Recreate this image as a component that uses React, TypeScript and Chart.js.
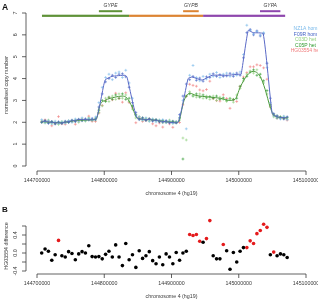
import React, { useEffect, useRef } from "react";
import { Chart, registerables } from "chart.js";

Chart.register(...registerables);

// 5 kb window centres along chromosome 4 (hg19)
const windowCentres = [
  144707000, 144712000, 144717000, 144722000, 144727000, 144732000, 144737000, 144742000, 144747000, 144752000,
  144757000, 144762000, 144767000, 144772000, 144777000, 144782000, 144787000, 144792000, 144797000, 144802000,
  144807000, 144812000, 144817000, 144822000, 144827000, 144832000, 144837000, 144842000, 144847000, 144852000,
  144857000, 144862000, 144867000, 144872000, 144877000, 144882000, 144887000, 144892000, 144897000, 144902000,
  144907000, 144912000, 144917000, 144922000, 144927000, 144932000, 144937000, 144942000, 144947000, 144952000,
  144957000, 144962000, 144967000, 144972000, 144977000, 144982000, 144987000, 144992000, 144997000, 145002000,
  145007000, 145012000, 145017000, 145022000, 145027000, 145032000, 145037000, 145042000, 145047000, 145052000,
  145057000, 145062000, 145067000, 145072000,
];

// normalised copy number per sample
const nz1aHom = [
  2.12, 1.98, 2.07, 1.93, 2.05, 1.95, 2.02, 1.96, 2.08, 2.0,
  2.15, 2.05, 2.2, 2.08, 2.18, 2.1, 2.24, 2.9, 3.6, 4.05,
  4.2, 3.95, 4.25, 4.3, 4.05, 4.38, 3.8, 3.1, 2.3, 2.25,
  2.1, 2.2, 2.05, 2.15, 2.02, 2.1, 2.12, 1.98, 2.06, 1.95,
  2.04, 2.2, 3.0, 1.7, 4.15, 4.6, 4.05, 3.9, 4.1, 3.98,
  4.2, 4.1, 4.28, 4.05, 4.2, 4.25, 4.1, 4.22, 4.15, 4.3,
  5.1, 6.44, 6.2, 6.05, 6.15, 6.0, 6.1, 4.5, 2.9, 2.3,
  2.2, 2.15, 2.28, 2.12,
];
const f09rHom = [
  2.0, 2.08, 1.95, 2.04, 1.92, 2.02, 1.94, 2.05, 1.99, 2.1,
  2.03, 2.14, 2.07, 2.16, 2.1, 2.18, 2.12, 2.7, 3.3, 3.85,
  4.0, 4.15, 4.05, 4.2, 4.22, 4.08, 3.6, 2.9, 2.45, 2.12,
  2.2, 2.08, 2.16, 2.05, 2.12, 2.02, 2.0, 2.08, 1.97, 2.04,
  1.98, 2.35, 3.2, 3.75, 3.95, 4.1, 3.92, 4.02, 3.88, 4.08,
  4.05, 4.22, 4.1, 4.18, 4.1, 4.12, 4.24, 4.1, 4.25, 4.15,
  4.95, 6.1, 6.25, 6.0, 6.18, 5.95, 6.05, 4.7, 3.1, 2.4,
  2.3, 2.2, 2.15, 2.25,
];
const c03dHet = [
  2.05, 1.97, 2.1, 1.95, 2.0, 1.9, 2.04, 1.98, 2.06, 2.02,
  2.1, 2.0, 2.15, 2.05, 2.2, 2.08, 2.1, 2.45, 2.75, 3.1,
  2.95, 3.2, 3.05, 3.3, 3.1, 3.25, 2.95, 2.6, 2.2, 2.25,
  2.1, 2.18, 2.05, 2.14, 2.06, 2.1, 1.98, 2.05, 2.1, 1.96,
  2.02, 2.1, 1.28, 1.19, 3.4, 3.25, 3.15, 3.3, 3.1, 3.2,
  3.05, 3.2, 3.0, 3.15, 3.05, 2.95, 3.1, 2.92, 3.25, 3.55,
  3.9, 4.2, 4.35, 4.25, 4.4, 4.05, 3.8, 3.3, 2.7, 2.25,
  2.3, 2.18, 2.25, 2.15,
];
const c05pHet = [
  2.0, 2.06, 1.98, 2.03, 1.94, 2.0, 1.96, 2.02, 2.0, 2.08,
  2.05, 2.12, 2.08, 2.1, 2.15, 2.12, 2.18, 2.55, 3.0, 2.95,
  3.15, 3.05, 3.25, 3.1, 3.3, 3.05, 3.1, 2.75, 2.35, 2.15,
  2.2, 2.1, 2.15, 2.08, 2.12, 2.04, 2.08, 2.0, 2.02, 2.05,
  1.97, 2.2, 0.32, 3.2, 3.3, 3.2, 3.3, 3.15, 3.25, 3.12,
  3.18, 3.1, 3.2, 3.05, 3.12, 3.0, 3.08, 3.05, 3.1, 3.65,
  4.0, 4.1, 4.3, 4.4, 4.15, 4.2, 3.9, 3.45, 2.8, 2.35,
  2.2, 2.25, 2.18, 2.22,
];
const hg03554Het = [
  2.03, 2.11, 2.05, 1.84, 1.95, 2.26, 1.93, 1.91, 2.05, 2.03,
  1.91, 2.06, 2.13, 2.11, 2.28, 2.04, 2.04, 2.42, 2.77, 2.99,
  3.12, 3.03, 3.33, 3.09, 2.92, 3.35, 2.9, 2.66, 1.98, 2.23,
  2.04, 2.08, 2.15, 1.93, 1.84, 1.97, 1.78, 2.01, 1.93, 1.77,
  2.01, 1.99, 2.8, 3.19, 3.74, 3.69, 3.65, 3.48, 3.44, 3.5,
  3.88, 3.08, 2.99, 2.97, 3.26, 3.09, 2.64, 3.03, 2.95, 3.64,
  4.07, 4.27, 4.54, 4.54, 4.63, 4.6, 4.49, 3.97, 2.71, 2.32,
  2.19, 2.2, 2.17, 2.1,
];

// fitted profiles
const homFitPos = [
  144707400, 144734200, 144764000, 144787800, 144801200, 144811600, 144831000, 144834000,
  144848800, 144868200, 144890500, 144909800, 144924700, 144930700, 144945500, 144960400,
  144982700, 145000600, 145003600, 145014000, 145021400, 145036300, 145049700, 145057100, 145072000,
];
const homFitValue = [
  2.05, 1.97, 2.13, 2.15, 3.93, 4.1, 4.15, 4.05,
  2.2, 2.12, 2.03, 2.0, 4.0, 4.07, 3.93, 4.15,
  4.15, 4.2, 4.2, 6.2, 6.1, 6.05, 2.4, 2.25, 2.2,
];
const hetFitPos = [
  144707400, 144734200, 144764000, 144787800, 144793800, 144801200, 144816100, 144826500,
  144834000, 144841400, 144848800, 144868200, 144890500, 144909800, 144918700, 144927700,
  144935100, 144957400, 144972300, 144987200, 144994600, 145002100, 145012500, 145021400,
  145031800, 145039300, 145046700, 145052700, 145072000,
];
const hetFitValue = [
  2.03, 1.98, 2.1, 2.13, 2.8, 3.0, 3.15, 3.2,
  3.1, 2.7, 2.2, 2.12, 2.03, 2.0, 3.0, 3.33,
  3.24, 3.15, 3.1, 3.0, 3.05, 3.6, 4.15, 4.33,
  4.1, 3.5, 2.7, 2.3, 2.2,
];

// HG03554 difference per window, and whether the window is flagged
const hgDifference = [
  0.0, 0.09, 0.04, -0.16, -0.04, 0.28, -0.06, -0.09, 0.03, -0.01,
  -0.15, -0.02, 0.03, 0.0, 0.16, -0.08, -0.09, -0.08, -0.13, -0.03,
  0.04, -0.09, 0.18, -0.09, -0.28, 0.21, -0.15, -0.04, -0.32, 0.05,
  -0.12, -0.06, 0.03, -0.17, -0.24, -0.09, -0.26, -0.02, -0.09, -0.24,
  0.01, -0.16, 0.0, 0.04, 0.41, 0.39, 0.41, 0.26, 0.24, 0.32,
  0.72, -0.06, -0.13, -0.13, 0.19, 0.05, -0.36, 0.01, -0.2, 0.04,
  0.12, 0.12, 0.27, 0.21, 0.43, 0.5, 0.64, 0.57, -0.04, 0.02,
  -0.06, -0.02, -0.04, -0.1,
];
const hgFlagged = [
  0, 0, 0, 0, 0, 1, 0, 0, 0, 0,
  0, 0, 0, 0, 0, 0, 0, 0, 0, 0,
  0, 0, 0, 0, 0, 0, 0, 0, 0, 0,
  0, 0, 0, 0, 0, 0, 0, 0, 0, 0,
  0, 0, 0, 0, 1, 1, 1, 1, 0, 1,
  1, 0, 0, 0, 1, 0, 0, 0, 0, 0,
  0, 1, 1, 1, 1, 1, 1, 1, 0, 1,
  0, 0, 0, 0,
];

// segmental duplication blocks and genes
const blockStarts = [144707400, 144836900, 144947000];
const blockEnds = [144836900, 144947000, 145069000];
const blockColors = ["#5f9238", "#dc8433", "#8e47ad"];
const geneNames = ["GYPE", "GYPB", "GYPA"];
const geneStarts = [144792019, 144917255, 145031588];
const geneEnds = [144826716, 144940477, 145061904];
const geneColors = ["#5f9238", "#dc8433", "#8e47ad"];

const xTicks = [144700000, 144800000, 144900000, 145000000, 145100000];
const yTicksA = [0, 1, 2, 3, 4, 5, 6, 7];
const yTicksB = [-0.4, -0.2, 0, 0.2, 0.4, 0.6];
const yLabelsB = ["-0.4", "", "0.0", "", "0.4", ""];

const legendLabels = ["NZ1A hom", "F09R hom", "C03D het", "C05P het", "HG03554 het"];
const sampleColors = ["#79b9ea", "#3f5fc4", "#8fd07c", "#2f9a2f", "#f07c7c"];

const FONT = "'Liberation Sans', Arial, sans-serif";
const INK = "#3a3a3a";

function drawAxes(chart: any, yTicks: number[], yLabels: string[], yTitle: string, yTitleCentre: number, xAxisGap: number) {
  const { ctx, chartArea, scales } = chart;
  const xs = scales.x;
  const ys = scales.y;
  ctx.save();
  ctx.strokeStyle = INK;
  ctx.fillStyle = INK;
  ctx.lineWidth = 0.8;
  ctx.font = `5.3px ${FONT}`;

  // y axis
  const ax = chartArea.left - 11;
  ctx.beginPath();
  ctx.moveTo(ax, ys.getPixelForValue(yTicks[0]));
  ctx.lineTo(ax, ys.getPixelForValue(yTicks[yTicks.length - 1]));
  ctx.stroke();
  yTicks.forEach((t, i) => {
    const py = ys.getPixelForValue(t);
    ctx.beginPath();
    ctx.moveTo(ax - 4, py);
    ctx.lineTo(ax, py);
    ctx.stroke();
    if (yLabels[i]) {
      ctx.save();
      ctx.translate(ax - 10, py);
      ctx.rotate(-Math.PI / 2);
      ctx.textAlign = "center";
      ctx.textBaseline = "middle";
      ctx.fillText(yLabels[i], 0, 0);
      ctx.restore();
    }
  });

  // x axis
  const ay = chartArea.bottom + xAxisGap;
  ctx.beginPath();
  ctx.moveTo(xs.getPixelForValue(xTicks[0]), ay);
  ctx.lineTo(xs.getPixelForValue(xTicks[xTicks.length - 1]), ay);
  ctx.stroke();
  ctx.textAlign = "center";
  ctx.textBaseline = "middle";
  xTicks.forEach((t) => {
    const px = xs.getPixelForValue(t);
    ctx.beginPath();
    ctx.moveTo(px, ay);
    ctx.lineTo(px, ay + 4);
    ctx.stroke();
    ctx.fillText(String(t), px, ay + 10);
  });
  ctx.fillText("chromosome 4 (hg19)", (chartArea.left + chartArea.right) / 2, ay + 23);

  // y title
  ctx.save();
  ctx.translate(6.5, yTitleCentre);
  ctx.rotate(-Math.PI / 2);
  ctx.fillText(yTitle, 0, 0);
  ctx.restore();
  ctx.restore();
}

const panelAOverlay = {
  id: "panelAOverlay",
  afterDraw(chart: any) {
    const { ctx, scales } = chart;
    const xs = scales.x;
    drawAxes(chart, yTicksA, yTicksA.map(String), "normalised copy number", 85, 5);
    ctx.save();
    // duplication blocks
    blockStarts.forEach((s, i) => {
      const a = xs.getPixelForValue(s);
      const b = xs.getPixelForValue(blockEnds[i]);
      ctx.fillStyle = blockColors[i];
      ctx.fillRect(a, 14.7, b - a, 2.2);
    });
    // genes
    ctx.textAlign = "center";
    ctx.textBaseline = "middle";
    ctx.font = `italic 5px ${FONT}`;
    geneNames.forEach((g, i) => {
      const a = xs.getPixelForValue(geneStarts[i]);
      const b = xs.getPixelForValue(geneEnds[i]);
      ctx.fillStyle = geneColors[i];
      ctx.fillRect(a, 10.2, b - a, 2);
      ctx.fillStyle = INK;
      ctx.fillText(g, (a + b) / 2, 5.5);
    });
    // legend
    ctx.font = `5px ${FONT}`;
    legendLabels.forEach((l, i) => {
      ctx.fillStyle = sampleColors[i];
      ctx.fillText(l, 305.5, 29 + i * 5.4);
    });
    // panel letter
    ctx.fillStyle = "#111";
    ctx.font = `bold 8.5px ${FONT}`;
    ctx.textAlign = "left";
    ctx.textBaseline = "alphabetic";
    ctx.fillText("A", 2, 9.5);
    ctx.restore();
  },
};

const panelBOverlay = {
  id: "panelBOverlay",
  afterDraw(chart: any) {
    const { ctx } = chart;
    drawAxes(chart, yTicksB, yLabelsB, "HG03554 difference", 46, 3);
    ctx.save();
    ctx.fillStyle = "#111";
    ctx.font = `bold 8px ${FONT}`;
    ctx.textAlign = "left";
    ctx.fillText("B", 2, 12);
    ctx.restore();
  },
};

function pointsOf(values: number[]) {
  return values.map((v, i) => ({ x: windowCentres[i], y: v }));
}

function sampleSet(label: string, values: number[], colour: string) {
  return {
    label,
    data: pointsOf(values),
    showLine: false,
    pointStyle: "cross",
    pointRadius: 1.4,
    pointBorderWidth: 0.6,
    pointBorderColor: colour,
    pointBackgroundColor: colour,
    order: 2,
  };
}

export default function App() {
  const refA = useRef<HTMLCanvasElement>(null);
  const refB = useRef<HTMLCanvasElement>(null);

  useEffect(() => {
    const chartA = new Chart(refA.current as HTMLCanvasElement, {
      type: "scatter",
      data: {
        datasets: [
          {
            label: "hom fit",
            data: homFitPos.map((p, i) => ({ x: p, y: homFitValue[i] })),
            showLine: true,
            borderColor: "#5a69c6",
            borderWidth: 1,
            pointRadius: 0,
            tension: 0.15,
            order: 0,
          },
          {
            label: "het fit",
            data: hetFitPos.map((p, i) => ({ x: p, y: hetFitValue[i] })),
            showLine: true,
            borderColor: "#4c9a3c",
            borderWidth: 1,
            pointRadius: 0,
            cubicInterpolationMode: "monotone",
            order: 0,
          },
          sampleSet(legendLabels[0], nz1aHom, sampleColors[0]),
          sampleSet(legendLabels[1], f09rHom, sampleColors[1]),
          sampleSet(legendLabels[2], c03dHet, sampleColors[2]),
          sampleSet(legendLabels[3], c05pHet, sampleColors[3]),
          sampleSet(legendLabels[4], hg03554Het, sampleColors[4]),
        ] as any,
      },
      options: {
        animation: false,
        responsive: false,
        layout: { padding: { left: 37, right: 12, top: 13, bottom: 34 } },
        scales: {
          x: { type: "linear", min: 144700000, max: 145100000, display: false },
          y: { type: "linear", min: 0, max: 7, display: false },
        },
        plugins: { legend: { display: false }, tooltip: { enabled: false } },
      },
      plugins: [panelAOverlay],
    });

    const chartB = new Chart(refB.current as HTMLCanvasElement, {
      type: "scatter",
      data: {
        datasets: [
          {
            label: "HG03554 difference",
            data: pointsOf(hgDifference),
            pointRadius: 1.8,
            pointBorderWidth: 0,
            pointBackgroundColor: hgFlagged.map((f) => (f ? "#e41a1c" : "#000000")),
            pointBorderColor: hgFlagged.map((f) => (f ? "#e41a1c" : "#000000")),
          },
        ] as any,
      },
      options: {
        animation: false,
        responsive: false,
        layout: { padding: { left: 37, right: 12, top: 17, bottom: 30 } },
        scales: {
          x: { type: "linear", min: 144700000, max: 145100000, display: false },
          y: { type: "linear", min: -0.4, max: 0.8, display: false },
        },
        plugins: { legend: { display: false }, tooltip: { enabled: false } },
      },
      plugins: [panelBOverlay],
    });

    return () => {
      chartA.destroy();
      chartB.destroy();
    };
  }, []);

  return (
    <div style={{ position: "absolute", left: 0, top: 0, width: 318, height: 301, background: "#fff" }}>
      <canvas ref={refA} width={318} height={200} style={{ position: "absolute", left: 0, top: 0 }} />
      <canvas ref={refB} width={318} height={101} style={{ position: "absolute", left: 0, top: 200 }} />
    </div>
  );
}
